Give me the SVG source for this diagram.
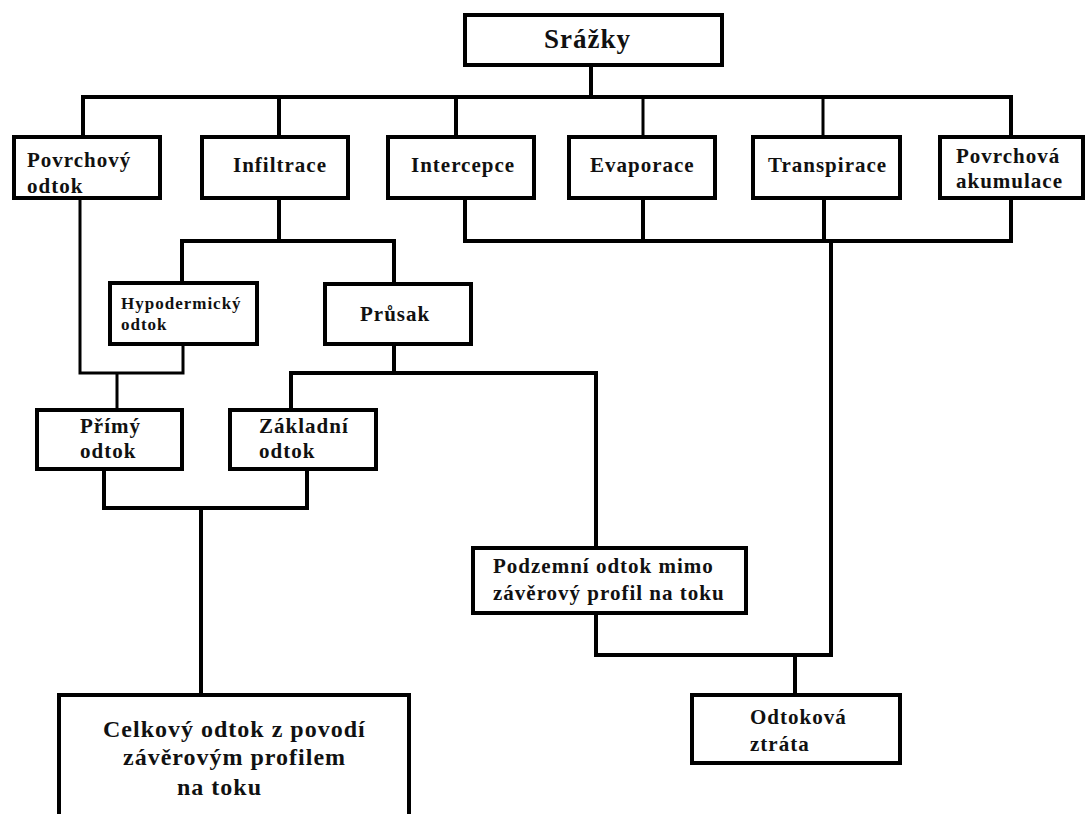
<svg xmlns="http://www.w3.org/2000/svg" width="1086" height="814" viewBox="0 0 1086 814">
<style>
.box{fill:#fff;stroke:#000;stroke-width:4}
.c{fill:none;stroke:#000;stroke-width:4;stroke-linecap:square}
.t{stroke-width:3}
text{font-family:"Liberation Serif","Times New Roman",serif;font-weight:bold;font-size:21px;letter-spacing:1px;fill:#111}
.s{font-size:17px}
.l{font-size:24px}
.xl{font-size:27px}
</style>
<rect width="1086" height="814" fill="#fff"/>
<g id="connectors">
<path class="c" d="M591 67V97M83 97H1011M83 97V135M279 97V135M456 97V135M1011 97V135"/>
<path class="c t" d="M643 97V135M823 97V135"/>
<path class="c t" d="M80 200V373H183V346M117 373V408"/>
<path class="c" d="M279 200V241M182 241H394M182 241V281M394 241V282"/>
<path class="c" d="M394 346V373M291 373H596V546M291 373V408"/>
<path class="c" d="M104 471V508H307V471M201 508V693"/>
<path class="c" d="M465 200V241H1011V200M643 200V241M824 200V241M831 241V655"/>
<path class="c" d="M596 615V655H831M795 655V693"/>
</g>
<g id="srazky"><rect class="box" x="465" y="15" width="257" height="50"/><text class="xl" x="544" y="48">Srážky</text></g>
<g id="povrchovy-odtok"><rect class="box" x="14" y="137" width="146" height="61"/><text x="27" y="167">Povrchový</text><text x="27" y="193">odtok</text></g>
<g id="infiltrace"><rect class="box" x="202" y="137" width="146" height="61"/><text x="233" y="172">Infiltrace</text></g>
<g id="intercepce"><rect class="box" x="388" y="137" width="146" height="61"/><text x="411" y="172">Intercepce</text></g>
<g id="evaporace"><rect class="box" x="569" y="137" width="146" height="61"/><text x="590" y="172">Evaporace</text></g>
<g id="transpirace"><rect class="box" x="753" y="137" width="147" height="61"/><text x="768" y="172">Transpirace</text></g>
<g id="povrchova-akumulace"><rect class="box" x="940" y="137" width="143" height="61"/><text x="956" y="163">Povrchová</text><text x="956" y="188">akumulace</text></g>
<g id="hypodermicky"><rect class="box" x="110" y="283" width="147" height="61"/><text class="s" x="121" y="309">Hypodermický</text><text class="s" x="121" y="330">odtok</text></g>
<g id="prusak"><rect class="box" x="325" y="284" width="146" height="60"/><text x="360" y="321">Průsak</text></g>
<g id="primy-odtok"><rect class="box" x="37" y="410" width="145" height="59"/><text x="80" y="433">Přímý</text><text x="80" y="458">odtok</text></g>
<g id="zakladni-odtok"><rect class="box" x="230" y="410" width="146" height="59"/><text x="259" y="433">Základní</text><text x="259" y="458">odtok</text></g>
<g id="podzemni-odtok"><rect class="box" x="473" y="548" width="273" height="65"/><text x="493" y="573">Podzemní odtok mimo</text><text x="493" y="600">závěrový profil na toku</text></g>
<g id="odtokova-ztrata"><rect class="box" x="692" y="695" width="208" height="68"/><text x="750" y="724">Odtoková</text><text x="750" y="751">ztráta</text></g>
<g id="celkovy-odtok"><rect class="box" x="59" y="695" width="350" height="140"/><text class="l" x="103" y="737">Celkový odtok z povodí</text><text class="l" x="123" y="765">závěrovým profilem</text><text class="l" x="177" y="795">na toku</text></g>
</svg>
